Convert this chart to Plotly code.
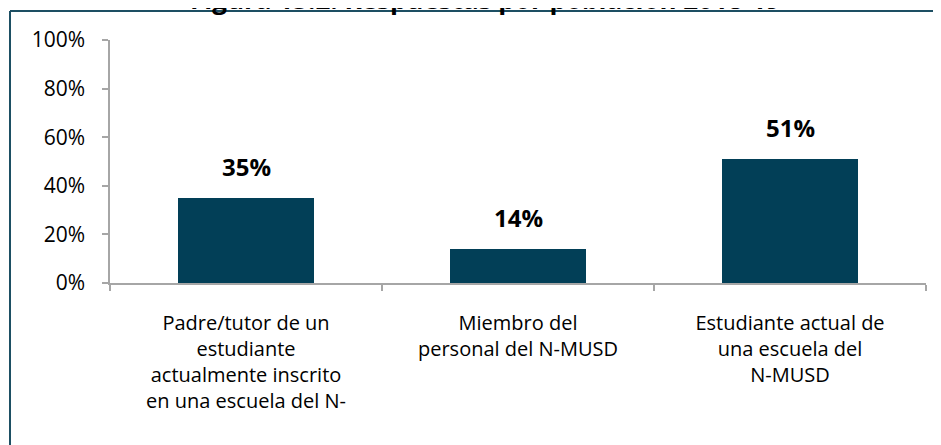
import plotly.graph_objects as go

categories = [
    "Padre/tutor de un<br>estudiante<br>actualmente inscrito<br>en una escuela del N-",
    "Miembro del<br>personal del N-MUSD",
    "Estudiante actual de<br>una escuela del<br>N-MUSD",
]
values = [35, 14, 51]
value_labels = ["35%", "14%", "51%"]
y_ticks = [0, 20, 40, 60, 80, 100]
y_tick_labels = ["0%", "20%", "40%", "60%", "80%", "100%"]
title_text = "Figura 15.2: Respuestas por población 2018-19"

FONT = "Open Sans"
BAR = "#023F57"
FRAME = "#1D4F63"
AXIS = "#A6A6A6"

# page is drawn with an 8px body margin; layout numbers below compensate
L, R, T, B = 102, 23, 32, 170
px_w = 941 - L - R
px_h = 445 - T - B

fig = go.Figure()
fig.add_trace(go.Bar(
    x=categories, y=values, marker=dict(color=BAR, line=dict(width=0)),
    width=0.5, hoverinfo="skip",
))

for c, v, t in zip(categories, values, value_labels):
    fig.add_annotation(x=c, y=v, text="<b>%s</b>" % t, showarrow=False,
                       yanchor="bottom", yshift=13,
                       font=dict(family=FONT, size=24, color="#000000"))

# title (partially clipped at top, as in the reference)
fig.add_annotation(xref="paper", yref="paper", x=(477 - L) / px_w, y=1,
                   text="<b>%s</b>" % title_text,
                   showarrow=False, xanchor="center", yanchor="bottom", yshift=21,
                   font=dict(family=FONT, size=26, color="#000000"))

# frame lines (top and left)
x_left = (2 - L) / px_w
y_top = (445 - B - 3) / px_h
fig.add_shape(type="line", xref="paper", yref="paper", x0=x_left, x1=1.2,
              y0=y_top, y1=y_top, line=dict(color=FRAME, width=2))
fig.add_shape(type="line", xref="paper", yref="paper", x0=x_left, x1=x_left,
              y0=y_top, y1=-1.0, line=dict(color=FRAME, width=2))

fig.update_layout(
    width=941, height=445,
    margin=dict(l=L, r=R, t=T, b=B),
    plot_bgcolor="white", paper_bgcolor="white",
    showlegend=False, bargap=0.5,
    font=dict(family=FONT, size=18, color="#000000"),
)
fig.update_yaxes(
    range=[0, 100], tickvals=y_ticks, ticktext=y_tick_labels, automargin=False,
    showgrid=False, zeroline=False, showline=True, linecolor=AXIS, linewidth=1.5,
    ticks="outside", ticklen=6, tickcolor=AXIS, tickwidth=1.5,
    ticklabelstandoff=13,
    tickfont=dict(family=FONT, size=21, color="#000000"),
)
fig.update_xaxes(
    automargin=False,
    showgrid=False, zeroline=False, showline=True, linecolor=AXIS, linewidth=1.5,
    ticks="outside", ticklen=6, tickcolor=AXIS, tickwidth=1.5, tickson="boundaries",
    ticklabelstandoff=21,
    tickfont=dict(family=FONT, size=20, color="#000000"),
)

fig.write_html("out.html")
